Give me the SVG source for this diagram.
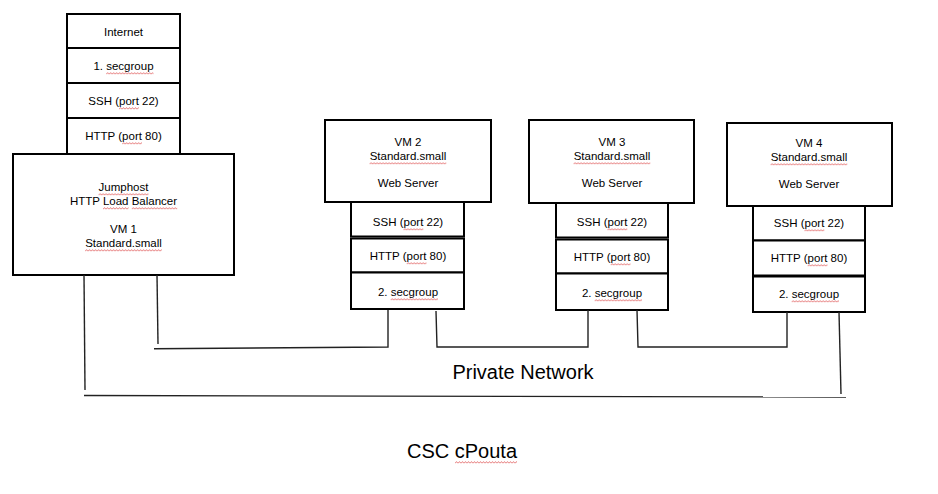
<svg xmlns="http://www.w3.org/2000/svg" width="938" height="494" viewBox="0 0 938 494">
<defs>
<pattern id="sq" x="0" y="0" width="3" height="3" patternUnits="userSpaceOnUse">
<path d="M0,2.4 L1.5,0.6 L3,2.4" fill="none" stroke="#e05a5a" stroke-width="0.8"/>
</pattern>
</defs>
<style>
.b{fill:#fff;stroke:#000;stroke-width:2}
.t{font-family:"Liberation Sans",Arial,sans-serif;font-size:11.5px;fill:#000;text-anchor:middle}
.big{font-family:"Liberation Sans",Arial,sans-serif;font-size:20px;fill:#000;text-anchor:middle}
.sq{fill:url(#sq)}
.c{fill:none;stroke:#222;stroke-width:1.4}
</style>
<rect width="938" height="494" fill="#fff"/>
<g id="internet-stack">
<rect class="b" x="67" y="14" width="113" height="34"/>
<text class="t" x="123.5" y="35.5">Internet</text>
<rect class="b" x="67" y="48" width="113" height="35"/>
<text class="t" x="123.5" y="70">1. secgroup</text>
<rect class="b" x="67" y="83" width="113" height="35"/>
<text class="t" x="123.5" y="105">SSH (port 22)</text>
<rect class="b" x="67" y="118" width="113" height="36"/>
<text class="t" x="123.5" y="140">HTTP (port 80)</text>
<rect class="sq" transform="translate(106.2,72)" width="47.3" height="3"/>
<rect class="sq" transform="translate(119,107)" width="19.8" height="3"/>
<rect class="sq" transform="translate(122.2,142)" width="19.8" height="3"/>
</g>
<g id="vm1">
<rect class="b" x="13" y="154" width="221" height="121"/>
<text class="t" x="123.5" y="191">Jumphost</text>
<text class="t" x="123.5" y="205">HTTP Load Balancer</text>
<text class="t" x="123.5" y="233">VM 1</text>
<text class="t" x="123.5" y="247">Standard.small</text>
<rect class="sq" transform="translate(98.6,193)" width="49.9" height="3"/>
<rect class="sq" transform="translate(103,207)" width="25.6" height="3"/>
<rect class="sq" transform="translate(131.8,207)" width="45.4" height="3"/>
<rect class="sq" transform="translate(85.1,249)" width="76.7" height="3"/>
</g>
<g id="vm2">
<rect class="b" x="325" y="120" width="166" height="82"/>
<text class="t" x="408" y="146">VM 2</text>
<text class="t" x="408" y="160">Standard.small</text>
<text class="t" x="408" y="187">Web Server</text>
<rect class="b" x="351" y="202" width="113" height="34.5"/>
<text class="t" x="408" y="226">SSH (port 22)</text>
<rect class="b" x="351" y="238.5" width="113" height="34"/>
<text class="t" x="408" y="260">HTTP (port 80)</text>
<rect class="b" x="351" y="272.5" width="113" height="36.5"/>
<text class="t" x="408" y="296">2. secgroup</text>
<rect class="sq" transform="translate(369.6,162)" width="76.7" height="3"/>
<rect class="sq" transform="translate(403.5,228)" width="19.8" height="3"/>
<rect class="sq" transform="translate(406.7,262)" width="19.8" height="3"/>
<rect class="sq" transform="translate(390.7,298)" width="47.3" height="3"/>
</g>
<g id="vm3">
<rect class="b" x="529" y="120" width="165" height="83"/>
<text class="t" x="612" y="146">VM 3</text>
<text class="t" x="612" y="160">Standard.small</text>
<text class="t" x="612" y="187">Web Server</text>
<rect class="b" x="556" y="203" width="112" height="34.5"/>
<text class="t" x="612" y="226">SSH (port 22)</text>
<rect class="b" x="556" y="239.5" width="112" height="34"/>
<text class="t" x="612" y="261">HTTP (port 80)</text>
<rect class="b" x="556" y="273.5" width="112" height="36.5"/>
<text class="t" x="612" y="297">2. secgroup</text>
<rect class="sq" transform="translate(573.6,162)" width="76.7" height="3"/>
<rect class="sq" transform="translate(607.5,228)" width="19.8" height="3"/>
<rect class="sq" transform="translate(610.7,263)" width="19.8" height="3"/>
<rect class="sq" transform="translate(594.7,299)" width="47.3" height="3"/>
</g>
<g id="vm4">
<rect class="b" x="727" y="123" width="165" height="83"/>
<text class="t" x="809" y="147">VM 4</text>
<text class="t" x="809" y="161">Standard.small</text>
<text class="t" x="809" y="188">Web Server</text>
<rect class="b" x="753" y="206" width="112" height="34.5"/>
<text class="t" x="809" y="227">SSH (port 22)</text>
<rect class="b" x="753" y="240.5" width="112" height="35"/>
<text class="t" x="809" y="262">HTTP (port 80)</text>
<rect class="b" x="753" y="276.5" width="112" height="35.5"/>
<text class="t" x="809" y="298">2. secgroup</text>
<rect class="sq" transform="translate(770.6,163)" width="76.7" height="3"/>
<rect class="sq" transform="translate(804.5,229)" width="19.8" height="3"/>
<rect class="sq" transform="translate(807.7,264)" width="19.8" height="3"/>
<rect class="sq" transform="translate(791.7,300)" width="47.3" height="3"/>
</g>
<g id="connectors">
<path class="c" d="M157,275 L158,344"/>
<path class="c" d="M154,348.7 L388,347 L388,310"/>
<path class="c" d="M436,311 L437,347 L588,347 L588,310"/>
<path class="c" d="M637,310 L638,347 L787,347 L787,312"/>
<path class="c" d="M84,275 L85,390"/>
<path class="c" d="M84,395.5 L846,397"/>
<path class="c" d="M839,312 L841,394"/>
</g>
<g id="labels">
<text class="big" x="523" y="379">Private Network</text>
<text class="big" x="462" y="458">CSC cPouta</text>
<rect class="sq" transform="translate(455,461)" width="62" height="3"/>
</g>
</svg>
